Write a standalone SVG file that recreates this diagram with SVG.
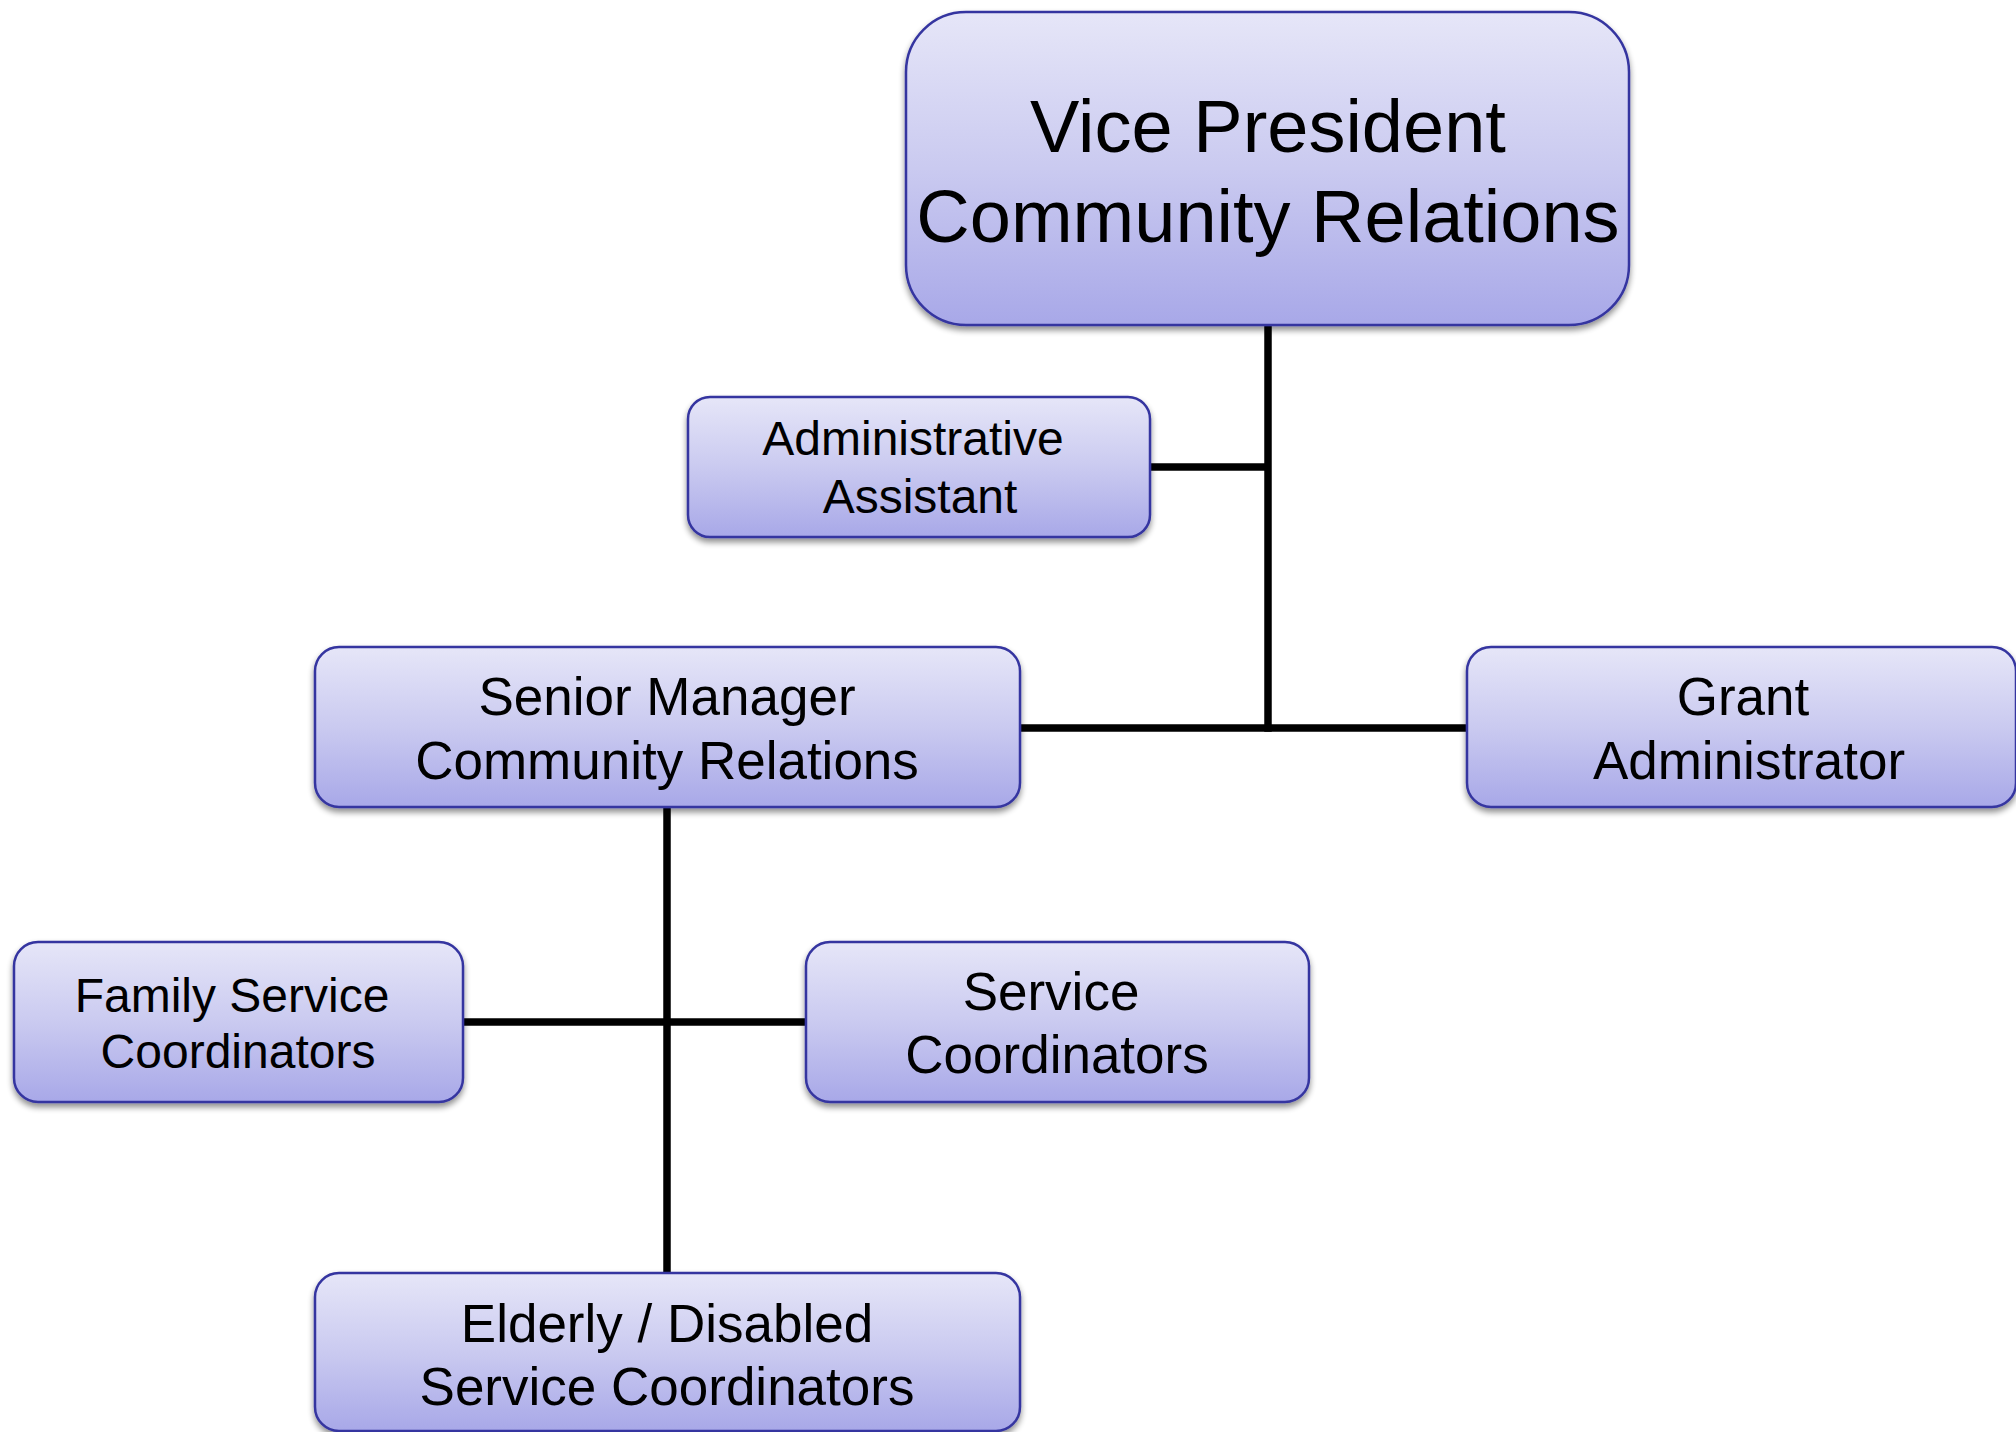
<svg xmlns="http://www.w3.org/2000/svg" width="2016" height="1432" viewBox="0 0 2016 1432">
<defs>
<linearGradient id="g" x1="0" y1="0" x2="0" y2="1">
<stop offset="0" stop-color="#E6E6F8"/>
<stop offset="0.5" stop-color="#CACAF0"/>
<stop offset="1" stop-color="#A8A8E8"/>
</linearGradient>
<filter id="sh" x="-5%" y="-5%" width="110%" height="125%">
<feGaussianBlur in="SourceAlpha" stdDeviation="3"/>
<feOffset dx="0" dy="4" result="b"/>
<feComponentTransfer><feFuncA type="linear" slope="0.45"/></feComponentTransfer>
<feMerge><feMergeNode/><feMergeNode in="SourceGraphic"/></feMerge>
</filter>
</defs>
<style>
.box{fill:url(#g);stroke:#3434A0;stroke-width:2.5;filter:url(#sh)}
.t{font-family:"Liberation Sans",Arial,sans-serif;fill:#000;text-anchor:middle}
.c{stroke:#000;stroke-width:7.5;fill:none}
</style>
<rect width="2016" height="1432" fill="#fff"/>
<g id="connectors">
<line class="c" x1="1268" y1="325" x2="1268" y2="731.75"/>
<line class="c" x1="1150" y1="467" x2="1268" y2="467"/>
<line class="c" x1="1020" y1="728" x2="1467" y2="728"/>
<line class="c" x1="667" y1="807" x2="667" y2="1273"/>
<line class="c" x1="463" y1="1022" x2="806" y2="1022"/>
</g>
<g id="vp">
<rect class="box" x="906" y="12" width="723" height="313" rx="60" ry="60"/>
<text class="t" font-size="74" x="1268" y="152">Vice President</text>
<text class="t" font-size="74" x="1268" y="242">Community Relations</text>
</g>
<g id="admin">
<rect class="box" x="688" y="397" width="462" height="140" rx="22" ry="22"/>
<text class="t" font-size="48" x="913" y="455">Administrative</text>
<text class="t" font-size="48" x="920" y="513">Assistant</text>
</g>
<g id="senior">
<rect class="box" x="315" y="647" width="705" height="160" rx="24" ry="24"/>
<text class="t" font-size="53" x="667" y="715">Senior Manager</text>
<text class="t" font-size="53" x="667" y="779">Community Relations</text>
</g>
<g id="grant">
<rect class="box" x="1467" y="647" width="549" height="160" rx="24" ry="24"/>
<text class="t" font-size="53" x="1743" y="715">Grant</text>
<text class="t" font-size="53" x="1749" y="779">Administrator</text>
</g>
<g id="family">
<rect class="box" x="14" y="942" width="449" height="160" rx="24" ry="24"/>
<text class="t" font-size="48" x="232" y="1012">Family Service</text>
<text class="t" font-size="48" x="238" y="1068">Coordinators</text>
</g>
<g id="service">
<rect class="box" x="806" y="942" width="503" height="160" rx="24" ry="24"/>
<text class="t" font-size="53" x="1051" y="1010">Service</text>
<text class="t" font-size="53" x="1057" y="1073">Coordinators</text>
</g>
<g id="elderly">
<rect class="box" x="315" y="1273" width="705" height="158" rx="24" ry="24"/>
<text class="t" font-size="53" x="667" y="1342">Elderly / Disabled</text>
<text class="t" font-size="53" x="667" y="1405">Service Coordinators</text>
</g>
</svg>
